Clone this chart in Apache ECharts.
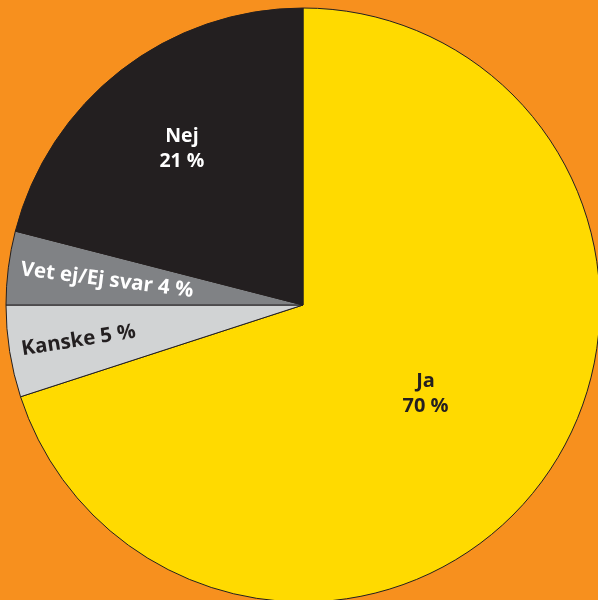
<!DOCTYPE html>
<html>
<head>
<meta charset="utf-8">
<script src="https://cdn.jsdelivr.net/npm/echarts@6/dist/echarts.min.js"></script>
<style>
html,body{margin:0;padding:0;background:#F7901E;}
#chart{width:598px;height:600px;}
</style>
</head>
<body>
<div id="chart"></div>
<script>
var categories = ['Ja', 'Kanske', 'Vet ej/Ej svar', 'Nej'];
var values = [70, 5, 4, 21];
var colors = ['#FFDA00', '#D1D3D4', '#808285', '#231F20'];
var textColors = ['#231F20', '#231F20', '#FFFFFF', '#FFFFFF'];
var twoLine = [true, false, false, true];
var rotations = [0, 'radial', 'radial', 0];
var fontSizes = [20, 20.5, 20.5, 19.5];

var R = 297;
var center = [303, 305];
var FONT = '"Open Sans", "DejaVu Sans", sans-serif';

function fmt(p) {
  var i = p.dataIndex;
  return twoLine[i] ? categories[i] + '\n' + values[i] + ' %' : categories[i] + ' ' + values[i] + ' %';
}

function makeData(showList, filled) {
  return categories.map(function (c, i) {
    return {
      name: c,
      value: values[i],
      itemStyle: filled ? { color: colors[i], borderColor: '#231F20', borderWidth: 1 }
                        : { color: 'rgba(0,0,0,0)', borderWidth: 0 },
      label: {
        show: showList.indexOf(i) >= 0,
        color: textColors[i],
        rotate: rotations[i],
        fontSize: fontSizes[i]
      }
    };
  });
}

function labelSeries(inner, showList, filled) {
  return {
    type: 'pie',
    center: center,
    radius: [inner, R],
    startAngle: 90,
    clockwise: true,
    avoidLabelOverlap: false,
    silent: true,
    animation: false,
    emphasis: { disabled: true },
    labelLine: { show: false },
    label: {
      position: 'inside',
      formatter: fmt,
      fontFamily: FONT,
      fontWeight: 'bold',
      fontSize: 19,
      lineHeight: 25,
      align: 'center'
    },
    data: makeData(showList, filled)
  };
}

var chart = echarts.init(document.getElementById('chart'));
chart.setOption({
  backgroundColor: '#F7901E',
  series: [
    labelSeries(0, [0], true),
    labelSeries(R * 0.31, [2, 3], false),
    labelSeries(R * 0.51, [1], false)
  ]
});
</script>
</body>
</html>
